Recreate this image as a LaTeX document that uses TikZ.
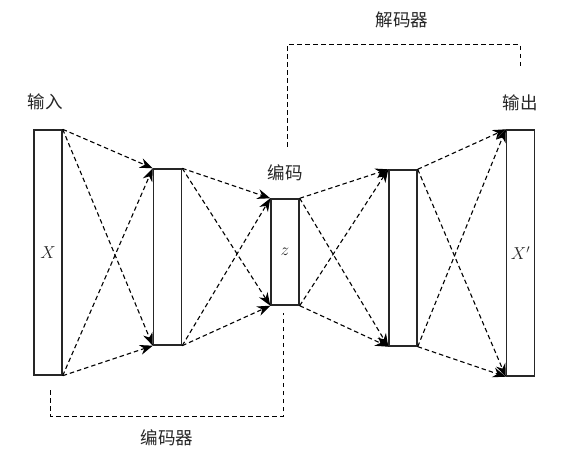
\documentclass[tikz,border=0pt]{standalone}
\usepackage{fontspec}
\newfontfamily\cjk{Noto Sans CJK SC}
\usetikzlibrary{arrows.meta}
\begin{document}
\begin{tikzpicture}[x=1pt,y=-1pt,
  layer/.style={draw=black!85,line width=1.4pt,fill=white,inner sep=0pt,minimum width=28pt},
  conn/.style={dashed,dash pattern=on 4.5pt off 3pt,line width=1.1pt,-{Stealth[length=13pt,width=10pt]}},
  bracket/.style={dashed,dash pattern=on 4.5pt off 3.5pt,line width=1pt},
  lbl/.style={font=\cjk\fontsize{17.5pt}{20pt}\selectfont,text=black!85,inner sep=0pt},
  mlbl/.style={font=\fontsize{18pt}{21pt}\selectfont,text=black!85,inner sep=0pt}]
\useasboundingbox (0,0) rectangle (566,460);
\node[layer,minimum height=245pt] (b1) at (48,252.5) {};
\node[layer,minimum height=176pt] (b2) at (167.5,257) {};
\node[layer,minimum height=106pt] (b3) at (285,252) {};
\node[layer,minimum height=176pt] (b4) at (403,258) {};
\node[layer,minimum height=246pt] (b5) at (520.5,253) {};
\node[mlbl] (tx) at (b1) {$X$};
\node[mlbl] (tz) at (b3) {$z$};
\node[mlbl] (txp) at (b5) {$X'$};
\foreach \a/\b in {b1/b2,b2/b3,b3/b4,b4/b5}{
  \draw[conn] (\a.north east) -- (\b.north west);
  \draw[conn] (\a.north east) -- (\b.south west);
  \draw[conn] (\a.south east) -- (\b.north west);
  \draw[conn] (\a.south east) -- (\b.south west);
}
\node[lbl] (lin) at (45,102) {输入};
\node[lbl] (lout) at (520,103) {输出};
\node[lbl] (lcode) at (285,173) {编码};
\node[lbl] (lenc) at (167,438) {编码器};
\node[lbl] (ldec) at (402,20) {解码器};
\coordinate (e1) at (50,390);
\coordinate (e2) at (50,416);
\coordinate (e3) at (283,416);
\coordinate (e4) at (283,313);
\draw[bracket] (e1) -- (e2) -- (e3) -- (e4);
\coordinate (d1) at (287,147);
\coordinate (d2) at (287,45);
\coordinate (d3) at (520,45);
\coordinate (d4) at (520,70);
\draw[bracket] (d1) -- (d2) -- (d3) -- (d4);
\end{tikzpicture}
\end{document}
